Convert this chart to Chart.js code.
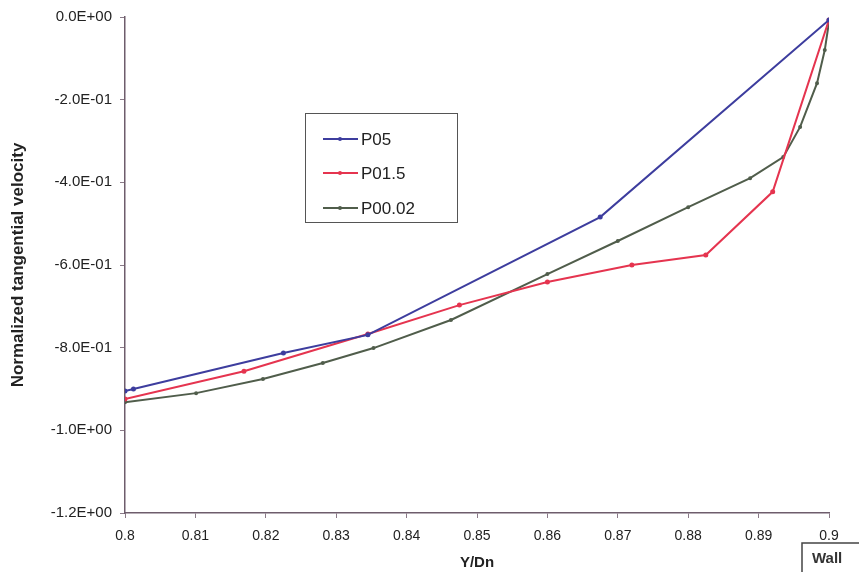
<!DOCTYPE html>
<html>
<head>
<meta charset="utf-8">
<script src="https://cdn.jsdelivr.net/npm/chart.js"></script>
<style>
  body { margin: 0; background: #fff; }
  canvas { display: block; }
</style>
</head>
<body>
<canvas id="velChart" width="859" height="572"></canvas>
<script>
// DATA
const p05X = [0.8, 0.8012, 0.8225, 0.8345, 0.8675, 0.9];
const p05Y = [-0.905, -0.900, -0.813, -0.769, -0.484, -0.007];

const p015X = [0.8, 0.8169, 0.8345, 0.8475, 0.86, 0.872, 0.8825, 0.892, 0.9];
const p015Y = [-0.924, -0.857, -0.767, -0.697, -0.641, -0.600, -0.576, -0.423, -0.007];

const p002X = [0.8, 0.8101, 0.8196, 0.8281, 0.8353, 0.8463, 0.86, 0.87, 0.88, 0.8888, 0.8935, 0.8959, 0.8983, 0.8994, 0.9];
const p002Y = [-0.932, -0.910, -0.876, -0.837, -0.801, -0.733, -0.622, -0.542, -0.460, -0.390, -0.339, -0.266, -0.160, -0.080, -0.012];

const seriesNames = ["P05", "P01.5", "P00.02"];
const seriesColors = ["#3d3d9e", "#e5344f", "#505d4b"];

const xMin = 0.8, xMax = 0.9, xStep = 0.01;
const yMin = -1.2, yMax = 0, yStep = 0.2;

const FONT = '"Liberation Sans", Arial, sans-serif';

function pts(xs, ys) {
    return xs.map((x, i) => ({ x: x, y: ys[i] }));
}

// 0.0E+00 style labels
function sci(v) {
    let s = Number(v.toFixed(4)).toExponential(1);
    let parts = s.split("e");
    let exp = parseInt(parts[1], 10);
    let sign = exp < 0 ? "-" : "+";
    return parts[0] + "E" + sign + String(Math.abs(exp)).padStart(2, "0");
}

// LEGEND BOX + WALL LABEL
const extras = {
    id: "extras",
    afterDraw(chart) {
        const c = chart.ctx;
        c.save();

        // legend
        c.strokeStyle = "#555";
        c.lineWidth = 1;
        c.strokeRect(305.5, 113.5, 152, 109);
        const rows = [139, 173, 208];
        chart.data.datasets.forEach((ds, i) => {
            const y = rows[i];
            c.strokeStyle = ds.borderColor;
            c.lineWidth = 2;
            c.beginPath();
            c.moveTo(323, y);
            c.lineTo(358, y);
            c.stroke();
            c.fillStyle = ds.borderColor;
            c.beginPath();
            c.arc(340, y, 2, 0, Math.PI * 2);
            c.fill();
            c.fillStyle = "#222";
            c.font = "17px " + FONT;
            c.textAlign = "left";
            c.textBaseline = "middle";
            c.fillText(ds.label, 361, y + 1);
        });

        // "Wall" box
        c.strokeStyle = "#444";
        c.lineWidth = 1.5;
        c.strokeRect(802, 543, 80, 40);
        c.fillStyle = "#333";
        c.font = "bold 15px " + FONT;
        c.textAlign = "left";
        c.textBaseline = "middle";
        c.fillText("Wall", 812, 559);

        c.restore();
    }
};

new Chart(document.getElementById("velChart"), {
    type: "line",
    data: {
        datasets: [
            {
                label: seriesNames[0],
                data: pts(p05X, p05Y),
                borderColor: seriesColors[0],
                backgroundColor: seriesColors[0],
                borderWidth: 2,
                pointRadius: 1.5,
                tension: 0
            },
            {
                label: seriesNames[1],
                data: pts(p015X, p015Y),
                borderColor: seriesColors[1],
                backgroundColor: seriesColors[1],
                borderWidth: 2,
                pointRadius: 1.5,
                tension: 0
            },
            {
                label: seriesNames[2],
                data: pts(p002X, p002Y),
                borderColor: seriesColors[2],
                backgroundColor: seriesColors[2],
                borderWidth: 2,
                pointRadius: 1,
                tension: 0
            }
        ]
    },
    options: {
        responsive: false,
        animation: false,
        devicePixelRatio: 1,
        layout: { padding: { top: 17, right: 30, left: 0, bottom: 0 } },
        plugins: {
            legend: { display: false },
            tooltip: { enabled: false }
        },
        scales: {
            x: {
                type: "linear",
                min: xMin,
                max: xMax,
                afterFit: s => { s.height = 59; },
                ticks: {
                    stepSize: xStep,
                    padding: 10,
                    color: "#222",
                    font: { family: FONT, size: 14 },
                    maxRotation: 0,
                    autoSkip: false,
                    callback: v => String(Number(v.toFixed(2)))
                },
                grid: {
                    drawOnChartArea: false,
                    drawTicks: true,
                    tickLength: 5,
                    color: "#8a7a88"
                },
                border: { color: "#6e5d6c", width: 1.5 },
                title: {
                    display: true,
                    text: "Y/Dn",
                    color: "#222",
                    font: { family: FONT, size: 15, weight: "bold" },
                    padding: { bottom: 0 }
                }
            },
            y: {
                min: yMin,
                max: yMax,
                afterFit: s => { s.width = 125; },
                ticks: {
                    stepSize: yStep,
                    padding: 8,
                    color: "#222",
                    font: { family: FONT, size: 15 },
                    callback: v => sci(v)
                },
                grid: {
                    drawOnChartArea: false,
                    drawTicks: true,
                    tickLength: 5,
                    color: "#8a7a88"
                },
                border: { color: "#6e5d6c", width: 1.5 },
                title: {
                    display: true,
                    text: "Normalized tangential velocity",
                    color: "#222",
                    font: { family: FONT, size: 17, weight: "bold" },
                    padding: { top: 8 }
                }
            }
        }
    },
    plugins: [extras]
});
</script>
</body>
</html>
